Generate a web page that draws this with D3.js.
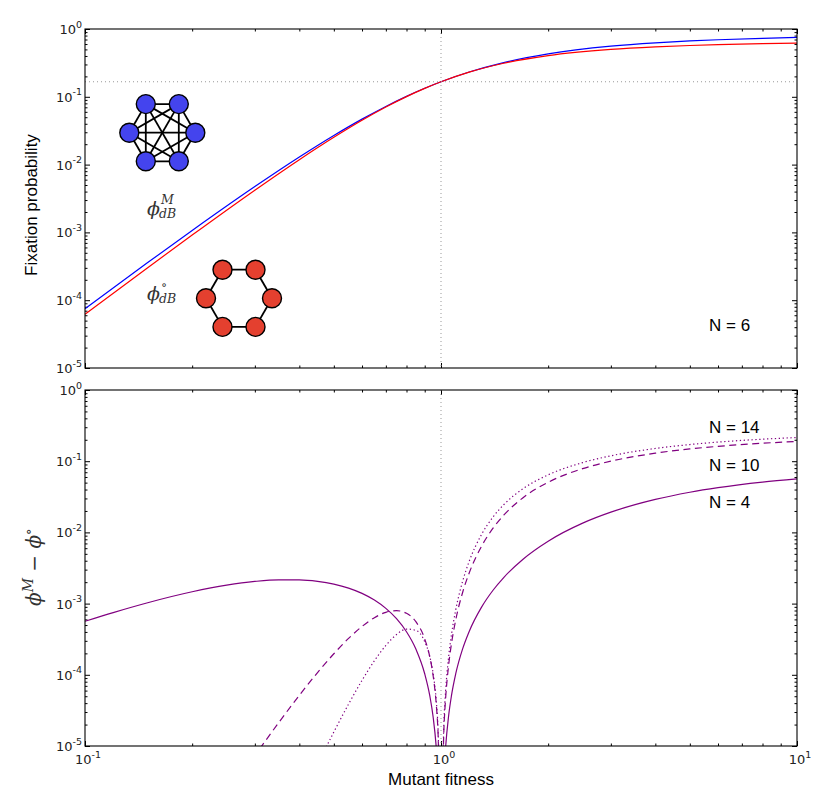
<!DOCTYPE html>
<html>
<head>
<meta charset="utf-8">
<script src="https://cdn.jsdelivr.net/npm/d3@7/dist/d3.min.js"></script>
<style>
  body { margin: 0; background: #fff; }
  svg { display: block; }
</style>
</head>
<body>
<div id="chart"></div>
<script>
// top panel: N = 6, complete graph (blue) vs cycle (red)
var fitnessTop = [0.1, 0.15, 0.2, 0.3, 0.4, 0.5, 0.6, 0.7, 0.8, 0.9, 1, 1.2, 1.5, 2, 3, 4, 5, 6, 8, 10];
var phiComplete = [7.5e-5, 3.586e-4, 1.067e-3, 4.737e-3, 0.012932, 0.026882, 0.046843, 0.07215, 0.10154, 0.13351,
                   0.16667, 0.23221, 0.31991, 0.43011, 0.55785, 0.62561, 0.66688, 0.69453, 0.72919, 0.75];
var phiCycle = [6.207e-5, 3.019e-4, 9.141e-4, 4.199e-3, 0.011839, 0.025316, 0.045151, 0.07076, 0.10073, 0.13327,
                0.16667, 0.23095, 0.31214, 0.40506, 0.5, 0.54526, 0.5713, 0.58815, 0.60866, 0.62067];
var neutralLevel = 1 / 6;

// bottom panel: difference complete - cycle for three sizes
var fitnessBottom = [0.1, 0.12, 0.15, 0.2, 0.25, 0.3, 0.35, 0.4, 0.45, 0.5, 0.55, 0.6, 0.65, 0.7, 0.75, 0.8, 0.85,
                     0.9, 0.93, 0.95, 0.97, 0.98, 0.99, 1.01, 1.02, 1.03, 1.05, 1.07, 1.1, 1.15, 1.2, 1.3, 1.4,
                     1.5, 1.7, 2, 2.5, 3, 4, 5, 6, 8, 10];
var diffN4 = [5.648e-4, 7.485e-4, 1.0293e-3, 1.4663e-3, 1.816e-3, 2.0495e-3, 2.1603e-3, 2.1567e-3, 2.0559e-3,
              1.8797e-3, 1.6508e-3, 1.3915e-3, 1.1214e-3, 8.576e-4, 6.143e-4, 4.023e-4, 2.3e-4, 1.034e-4,
              5.085e-5, 2.599e-5, 9.37e-6, 4.17e-6, 1.04e-6, 1.04e-6, 4.17e-6, 9.37e-6, 2.6e-5, 5.088e-5,
              1.035e-4, 2.312e-4, 4.07e-4, 8.932e-4, 1.5395e-3, 2.322e-3, 4.203e-3, 7.519e-3, 0.01348,
              0.01923, 0.02906, 0.03666, 0.04254, 0.0509, 0.05648];
var diffN10 = [null, null, null, null, 1.977e-6, 7.315e-6, 2.128e-5, 5.15e-5, 1.0745e-4, 1.9753e-4, 3.2412e-4,
               4.7793e-4, 6.3418e-4, 7.5448e-4, 7.9648e-4, 7.3056e-4, 5.576e-4, 3.1977e-4, 1.7858e-4, 9.855e-5,
               3.817e-5, 1.754e-5, 4.52e-6, 4.8e-6, 1.974e-5, 4.568e-5, 1.3326e-4, 2.7302e-4, 5.9039e-4,
               1.4333e-3, 2.6893e-3, 6.4009e-3, 0.011455, 0.017439, 0.030717, 0.050567, 0.078581, 0.10003,
               0.12955, 0.14857, 0.16176, 0.17881, 0.18931];
var diffN14 = [null, null, null, null, null, null, null, null, 5.4715e-6, 1.5704e-5, 3.8779e-5, 8.3456e-5,
               1.5725e-4, 2.5867e-4, 3.671e-4, 4.3878e-4, 4.2156e-4, 2.9312e-4, 1.8038e-4, 1.0541e-4, 4.292e-5,
               2.021e-5, 5.32e-6, 5.88e-6, 2.467e-5, 5.798e-5, 1.7435e-4, 3.6643e-4, 8.1718e-4, 2.0528e-3,
               3.9203e-3, 9.3661e-3, 0.016467, 0.024461, 0.041089, 0.064322, 0.095608, 0.11904, 0.15097,
               0.17143, 0.18557, 0.2038, 0.21502];
var seriesLabels = ['N = 14', 'N = 10', 'N = 4'];

var svgWidth = 830;
var svgHeight = 804;
var purple = '#800080';

var svg = d3.select('#chart').append('svg')
            .attr('width', svgWidth)
            .attr('height', svgHeight);

var x = d3.scaleLog().domain([0.1, 10]).range([85, 797]);
var yTop = d3.scaleLog().domain([1e-5, 1]).range([368, 29]);
var yBot = d3.scaleLog().domain([1e-5, 1]).range([746, 390]);

function isMajor(v) {
    var l = Math.log10(v);
    return Math.abs(l - Math.round(l)) < 1e-6;
}

// 10^k label with a raised exponent
function powText(sel) {
    sel.text('10')
       .append('tspan')
       .attr('dy', -6.5)
       .attr('font-size', 9.5)
       .text(d => Math.round(Math.log10(d)));
}

function drawPanel(y, id, showX) {
    var x0 = x.range()[0], x1 = x.range()[1];
    var yb = y.range()[0], yt = y.range()[1];

    svg.append('clipPath').attr('id', id)
       .append('rect').attr('x', x0).attr('y', yt).attr('width', x1 - x0).attr('height', yb - yt);

    var g = svg.append('g');
    var xt = x.ticks(), yticks = y.ticks();

    // ticks pointing inwards on all four sides
    [[true, 5], [false, 2.5]].forEach(function(m) {
        var xv = xt.filter(v => isMajor(v) === m[0]);
        var yv = yticks.filter(v => isMajor(v) === m[0]);
        var s = -m[1];
        g.append('g').attr('transform', `translate(0,${yb})`)
         .call(d3.axisBottom(x).tickValues(xv).tickSize(s).tickFormat(''));
        g.append('g').attr('transform', `translate(0,${yt})`)
         .call(d3.axisTop(x).tickValues(xv).tickSize(s).tickFormat(''));
        g.append('g').attr('transform', `translate(${x0},0)`)
         .call(d3.axisLeft(y).tickValues(yv).tickSize(s).tickFormat(''));
        g.append('g').attr('transform', `translate(${x1},0)`)
         .call(d3.axisRight(y).tickValues(yv).tickSize(s).tickFormat(''));
    });
    g.selectAll('.domain').remove();
    g.selectAll('.tick line').attr('stroke', '#000').attr('stroke-width', 1);

    // y labels
    g.append('g').selectAll('text').data(yticks.filter(isMajor)).enter()
     .append('text')
     .attr('x', x0 - 3)
     .attr('y', d => y(d) + 5)
     .attr('text-anchor', 'end')
     .attr('font-family', 'DejaVu Sans')
     .attr('font-size', 13)
     .attr('fill', '#222')
     .call(powText);

    if (showX) {
        g.append('g').selectAll('text').data(xt.filter(isMajor)).enter()
         .append('text')
         .attr('x', d => x(d) + 3)
         .attr('y', yb + 18)
         .attr('text-anchor', 'middle')
         .attr('font-family', 'DejaVu Sans')
         .attr('font-size', 13)
         .attr('fill', '#222')
         .call(powText);
    }

    // neutral fitness guide
    g.append('line')
     .attr('x1', x(1)).attr('x2', x(1)).attr('y1', yt).attr('y2', yb)
     .attr('stroke', '#999').attr('stroke-dasharray', '1,3');

    var plot = g.append('g').attr('clip-path', `url(#${id})`);
    return { g: g, plot: plot, frame: [x0, x1, yt, yb] };
}

function frame(p) {
    p.g.append('rect')
       .attr('x', p.frame[0]).attr('y', p.frame[2])
       .attr('width', p.frame[1] - p.frame[0]).attr('height', p.frame[3] - p.frame[2])
       .attr('fill', 'none').attr('stroke', '#000').attr('stroke-width', 1.1);
}

// ---- top panel
var topPanel = drawPanel(yTop, 'clipTop', false);

topPanel.g.append('line')
   .attr('x1', x.range()[0]).attr('x2', x.range()[1])
   .attr('y1', yTop(neutralLevel)).attr('y2', yTop(neutralLevel))
   .attr('stroke', '#999').attr('stroke-dasharray', '1,3');

var lineTop = d3.line()
                .x(d => x(d[0]))
                .y(d => yTop(d[1]))
                .curve(d3.curveMonotoneX);

topPanel.plot.append('path')
   .attr('d', lineTop(d3.zip(fitnessTop, phiComplete)))
   .attr('fill', 'none').attr('stroke', '#0000ff').attr('stroke-width', 1.2);
topPanel.plot.append('path')
   .attr('d', lineTop(d3.zip(fitnessTop, phiCycle)))
   .attr('fill', 'none').attr('stroke', '#ff0000').attr('stroke-width', 1.2);

// graph icons
function hexNodes(cx, cy, r) {
    return d3.range(6).map(i => [cx + r * Math.cos(i * Math.PI / 3), cy - r * Math.sin(i * Math.PI / 3)]);
}
function drawGraph(nodes, edges, fill) {
    var gg = topPanel.g.append('g');
    gg.selectAll('line').data(edges).enter().append('line')
      .attr('x1', e => nodes[e[0]][0]).attr('y1', e => nodes[e[0]][1])
      .attr('x2', e => nodes[e[1]][0]).attr('y2', e => nodes[e[1]][1])
      .attr('stroke', '#000').attr('stroke-width', 1.8);
    gg.selectAll('circle').data(nodes).enter().append('circle')
      .attr('cx', d => d[0]).attr('cy', d => d[1]).attr('r', 9.5)
      .attr('fill', fill).attr('stroke', '#000').attr('stroke-width', 1.4);
}
var completeEdges = [];
for (var i = 0; i < 6; i++) for (var j = i + 1; j < 6; j++) completeEdges.push([i, j]);
var cycleEdges = d3.range(6).map(i => [i, (i + 1) % 6]);
drawGraph(hexNodes(162.3, 132.7, 33), completeEdges, '#4444ee');
drawGraph(hexNodes(239, 298.3, 33), cycleEdges, '#e4402f');

function phiLabel(px, py, sup) {
    var t = topPanel.g.append('g')
                 .attr('font-family', 'DejaVu Serif')
                 .attr('font-style', 'italic')
                 .attr('fill', '#333');
    t.append('text').attr('x', px).attr('y', py).attr('font-size', 19).text('\u03d5');
    t.append('text').attr('x', px + 14).attr('y', py - 11).attr('font-size', 12.5).text(sup);
    t.append('text').attr('x', px + 12).attr('y', py + 3).attr('font-size', 12.5).text('dB');
}
phiLabel(147, 215, 'M');
phiLabel(147, 300, '\u2218');

topPanel.g.append('text')
   .attr('x', 709).attr('y', 331)
   .attr('font-family', 'Liberation Sans').attr('font-size', 17)
   .text('N = 6');

topPanel.g.append('text')
   .attr('transform', 'translate(37,205) rotate(-90)')
   .attr('text-anchor', 'middle')
   .attr('font-family', 'Liberation Sans').attr('font-size', 17)
   .text('Fixation probability');

frame(topPanel);

// ---- bottom panel
var botPanel = drawPanel(yBot, 'clipBot', true);

var lineBot = d3.line()
                .defined(d => d[1] != null)
                .x(d => x(d[0]))
                .y(d => yBot(d[1]))
                .curve(d3.curveMonotoneX);

var bottomSeries = [
    { values: diffN4, dash: null },
    { values: diffN10, dash: '7,4.5' },
    { values: diffN14, dash: '1.3,2.6' }
];
botPanel.plot.selectAll('path.diff').data(bottomSeries).enter()
   .append('path')
   .attr('class', 'diff')
   .attr('d', s => lineBot(d3.zip(fitnessBottom, s.values)))
   .attr('fill', 'none')
   .attr('stroke', purple)
   .attr('stroke-width', 1.2)
   .attr('stroke-dasharray', s => s.dash);

botPanel.g.selectAll('text.nlab').data(seriesLabels).enter()
   .append('text')
   .attr('class', 'nlab')
   .attr('x', 709)
   .attr('y', (d, i) => [433, 471, 508][i])
   .attr('font-family', 'Liberation Sans').attr('font-size', 17)
   .text(d => d);

var yl = botPanel.g.append('text')
              .attr('transform', 'translate(41,567) rotate(-90)')
              .attr('text-anchor', 'middle')
              .attr('font-family', 'DejaVu Serif')
              .attr('font-style', 'italic')
              .attr('font-size', 20)
              .attr('fill', '#333');
yl.append('tspan').text('\u03d5');
yl.append('tspan').attr('dy', -8).attr('font-size', 14).text('M');
yl.append('tspan').attr('dy', 8).attr('font-style', 'normal').text(' \u2212 ');
yl.append('tspan').text('\u03d5');
yl.append('tspan').attr('dy', -8).attr('font-size', 14).text('\u2218');

botPanel.g.append('text')
   .attr('x', 441).attr('y', 785)
   .attr('text-anchor', 'middle')
   .attr('font-family', 'Liberation Sans').attr('font-size', 17)
   .text('Mutant fitness');

frame(botPanel);
</script>
</body>
</html>
